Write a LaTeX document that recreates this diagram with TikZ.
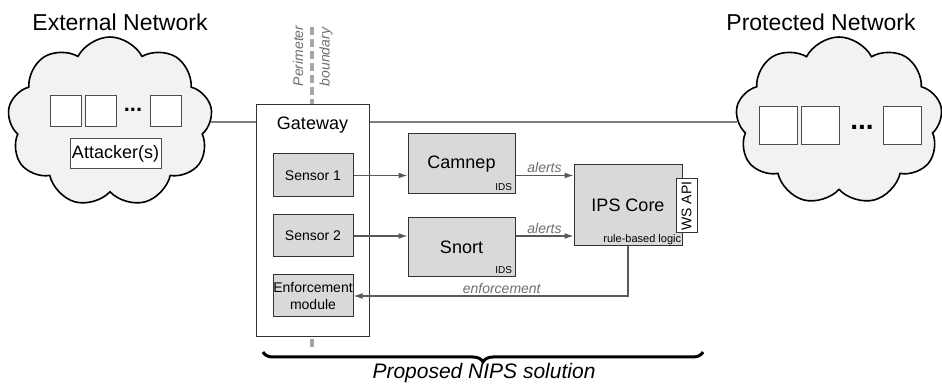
\documentclass[tikz,border=0pt]{standalone}
\usepackage{fontspec}
\setmainfont{Liberation Sans}
\usetikzlibrary{shapes.symbols,decorations.pathreplacing,arrows.meta}
\definecolor{cloudfill}{HTML}{F2F2F2}
\definecolor{boxfill}{HTML}{D9D9D9}
\definecolor{linegray}{HTML}{7F7F7F}
\definecolor{labelgray}{HTML}{6E6E6E}
\definecolor{perimgray}{HTML}{A6A6A6}

\begin{document}
\begin{tikzpicture}[
        x=0.5pt, y=-0.5pt,
        net/.style={cloud, cloud puffs=9, cloud puff arc=125, draw, line width=0.8pt, fill=cloudfill, inner sep=0pt},
        host/.style={draw=black!70, fill=white, line width=0.5pt, inner sep=0pt},
        unit/.style={draw=black!80, fill=boxfill, line width=0.5pt, inner sep=1pt, align=center},
        tag/.style={font=\fontsize{5}{6}\selectfont, anchor=south east, inner sep=1.5pt},
        link/.style={draw=linegray, line width=0.6pt},
        ar/.style={draw=black!65, line width=0.6pt, -{Latex[length=4.5pt,width=3pt]}},
        flow/.style={font=\itshape\fontsize{7}{8}\selectfont, text=labelgray, inner sep=1pt},
    ]
    \useasboundingbox (0,0) rectangle (942,389);

    % networks
    \node[net, minimum width=102.5pt, minimum height=85pt](ext) at (110,122) {};
    \node[net, minimum width=103.5pt, minimum height=84pt](prot) at (839,121) {};
    \node[font=\fontsize{11.5}{13}\selectfont](extlbl) at (120,22) {External Network};
    \node[font=\fontsize{11.5}{13}\selectfont](protlbl) at (821,22) {Protected Network};

    \node[host, minimum size=15.5pt](e1) at (66,111.5) {};
    \node[host, minimum size=15.5pt](e2) at (100.5,111.5) {};
    \node[font=\bfseries\fontsize{11}{11}\selectfont, inner sep=0pt](edots) at (133,110) {...};
    \node[host, minimum size=15.5pt](e3) at (165.5,111.5) {};
    \node[host, minimum width=45.5pt, minimum height=15pt, font=\fontsize{9}{10}\selectfont](att) at (115.5,154) {Attacker(s)};

    \node[host, minimum size=19pt](p1) at (778,126) {};
    \node[host, minimum size=19pt](p2) at (820.5,126) {};
    \node[font=\bfseries\fontsize{14}{14}\selectfont, inner sep=0pt](pdots) at (862,127) {...};
    \node[host, minimum size=19pt](p3) at (902,126) {};

    % perimeter
    \draw[perimgray, line width=2pt, dash pattern=on 4pt off 2pt] (312,27) -- (312,350);
    \node[flow, rotate=90](perim) at (298,56) {Perimeter};
    \node[flow, rotate=90](bound) at (326,57) {boundary};

    % gateway
    \node[draw=black!80, fill=white, line width=0.5pt, minimum width=56.5pt, minimum height=116pt](gw) at (312.5,221) {};
    \node[font=\fontsize{9}{10}\selectfont](gwlbl) at (312.5,125) {Gateway};
    \node[unit, minimum width=40pt, minimum height=21.5pt, font=\fontsize{7}{8}\selectfont](s1) at (313,175.5) {Sensor 1};
    \node[unit, minimum width=40pt, minimum height=21pt, font=\fontsize{7}{8}\selectfont](s2) at (313,236) {Sensor 2};
    \node[unit, minimum width=40pt, minimum height=21pt, inner sep=0pt, font=\fontsize{7}{8.5}\selectfont](enf) at (313,296) {Enforcement\\module};

    % detectors
    \node[unit, minimum width=53.5pt, minimum height=30pt, font=\fontsize{9}{10}\selectfont](camnep) at (461.5,164) {Camnep};
    \node[tag](camids) at (camnep.south east) {IDS};
    \node[unit, minimum width=53.5pt, minimum height=29.5pt, font=\fontsize{9}{10}\selectfont](snort) at (461.5,247.5) {Snort};
    \node[tag](snids) at (snort.south east) {IDS};

    % core
    \node[unit, minimum width=54pt, minimum height=40.5pt, font=\fontsize{9}{10}\selectfont](ips) at (628,205.5) {IPS Core};
    \node[tag, font=\fontsize{5.5}{6}\selectfont, inner sep=0.5pt](rules) at (ips.south east) {rule-based logic};
    \node[draw=black!80, fill=white, line width=0.5pt, rotate=90, minimum width=27pt, minimum height=10.5pt, inner sep=0pt, font=\fontsize{7}{8}\selectfont](ws) at (686.5,206) {WS API};

    % links
    \draw[link] (ext.east) -- (ext.east -| gw.west);
    \draw[link] (gw.east |- ext.east) -- (prot.west |- ext.east);

    \draw[ar] (s1.east) -- (s1.east -| camnep.west);
    \draw[ar] (s2.east) -- (s2.east -| snort.west);
    \draw[ar] (s1.east -| camnep.east) -- node[flow, above]{alerts} (s1.east -| ips.west);
    \draw[ar] (s2.east -| snort.east) -- node[flow, above]{alerts} (s2.east -| ips.west);
    \draw[ar] (ips.south) |- node[flow, above, pos=0.73]{enforcement} (enf.east);

    % solution
    \draw[line width=1.5pt, decorate, decoration={brace, mirror, amplitude=5pt}] (263,352) -- (703,352);
    \node[font=\itshape\fontsize{10.5}{12}\selectfont](sol) at (484,373) {Proposed NIPS solution};
\end{tikzpicture}
\end{document}
